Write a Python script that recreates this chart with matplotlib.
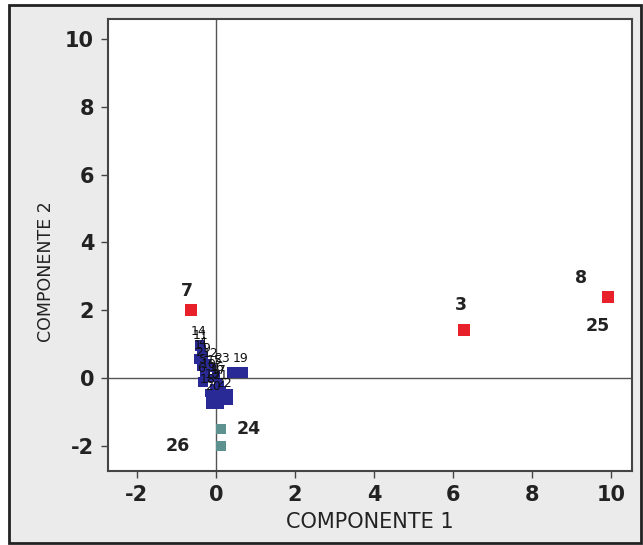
import matplotlib
matplotlib.use("Agg")
from matplotlib import pyplot as plt
from matplotlib.patches import Rectangle

plt.rcParams["axes.unicode_minus"] = False

# outliers (red)
red_x = [-0.62, 6.27, 9.92]
red_y = [2.02, 1.42, 2.40]
red_lab = ["7", "3", "8"]

# second group (teal)
teal_x = [0.13, 0.13]
teal_y = [-1.50, -2.00]
teal_lab = ["24", "26"]

# main cluster (blue)
blue_x = [-0.40, -0.36, -0.42, -0.38, -0.30, -0.28, -0.33, -0.22, -0.15, -0.10,
          -0.05, 0.00, 0.05, 0.10, -0.18, -0.03, 0.15, 0.23, 0.43, 0.66]
blue_y = [0.95, 0.85, 0.55, 0.35, 0.65, 0.15, -0.12, 0.45, 0.00, 0.30,
          -0.30, 0.10, -0.10, -0.20, -0.45, -0.65, -0.35, -0.56, 0.17, 0.17]
blue_s = [60, 40, 50, 40, 40, 50, 50, 30, 40, 30,
          30, 30, 30, 30, 30, 170, 30, 135, 63, 63]
blue_lab = ["14", "11", "1", "2", "4", "5", "6", "9", "10", "12",
            "13", "15", "16", "17", "18", "20", "21", "22", "23", "19"]

red_c = "#e8202a"
blue_c = "#2a2a96"
teal_c = "#5e9290"
bg = "#ebebeb"
txt = "#222222"

fig = plt.figure(figsize=(6.43, 5.45), dpi=100)
fig.patch.set_facecolor("white")
fig.patches.append(Rectangle((9 / 643, 2 / 545), 632 / 643, 538 / 545,
                             transform=fig.transFigure, facecolor=bg,
                             edgecolor=txt, linewidth=2, zorder=-10))

ax = fig.add_axes([0.168, 0.136, 0.815, 0.829])
ax.set_facecolor("white")

ax.axhline(0, color="#555555", lw=1, zorder=1)
ax.axvline(0, color="#555555", lw=1, zorder=1)

ax.scatter(blue_x, blue_y, s=blue_s, marker="s", color=blue_c, lw=0, zorder=3)
ax.scatter(red_x, red_y, s=63, marker="s", color=red_c, lw=0, zorder=3)
ax.scatter(teal_x, teal_y, s=52, marker="s", color=teal_c, lw=0, zorder=3)

# point labels
big = dict(textcoords="offset points", fontsize=12.5, fontweight="bold",
           color=txt, ha="center", va="center")
ax.annotate(red_lab[0], (red_x[0], red_y[0]), xytext=(-3.6, 13.7), **big)
ax.annotate(red_lab[1], (red_x[1], red_y[1]), xytext=(-2, 18), **big)
ax.annotate(red_lab[2], (red_x[2], red_y[2]), xytext=(-19.5, 13.7), **big)
ax.annotate("25", (red_x[2], red_y[2]), xytext=(-7, -21), **big)
ax.annotate(teal_lab[0], (teal_x[0], teal_y[0]), xytext=(20, 0), **big)
ax.annotate(teal_lab[1], (teal_x[1], teal_y[1]), xytext=(-31, 0), **big)
for x, y, t in zip(blue_x, blue_y, blue_lab):
    dx = -8 if t == "23" else -1
    ax.annotate(t, (x, y), xytext=(dx, 10), textcoords="offset points",
                fontsize=9, color="#111111", ha="center", va="center", zorder=4)

ax.set_xlim(-2.73, 10.53)
ax.set_ylim(-2.74, 10.59)
ax.set_xticks([-2, 0, 2, 4, 6, 8, 10])
ax.set_yticks([-2, 0, 2, 4, 6, 8, 10])
ax.tick_params(direction="out", length=5, width=1, color="#444444",
               labelsize=15, labelcolor=txt, pad=5)
for lab in ax.get_xticklabels() + ax.get_yticklabels():
    lab.set_fontweight("bold")
for sp in ax.spines.values():
    sp.set_color("#444444")
    sp.set_linewidth(1.5)

ax.set_xlabel("COMPONENTE 1", fontsize=15, color=txt)
ax.xaxis.set_label_coords(0.5, -0.09)
ax.set_ylabel("COMPONENTE 2", fontsize=12.5, color=txt)
ax.yaxis.set_label_coords(-0.101, 0.442)

fig.savefig("out.png", dpi=100)
